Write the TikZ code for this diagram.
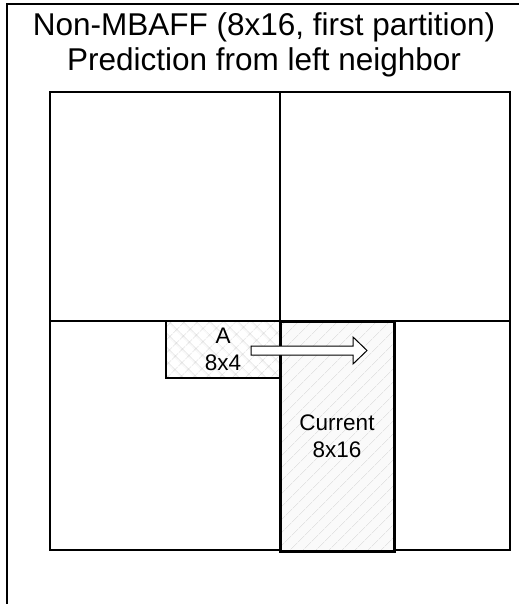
\documentclass[tikz,border=0pt]{standalone}
\usepackage{fontspec}
\setmainfont{Liberation Sans}
\usetikzlibrary{
  positioning,
  patterns.meta
}

\tikzset{
  mb/.style={draw,line width=1.6bp,minimum width=230bp,minimum height=229bp,
    inner sep=0pt,outer sep=0pt},
  part/.style={draw,inner sep=0pt,outer sep=0pt,align=center,
    font=\fontsize{22.5bp}{27bp}\selectfont}
}

\begin{document}
\begin{tikzpicture}[x=1bp,y=-1bp]
  \useasboundingbox (0,0) rectangle (519,604);
  % frame
  \draw[line width=1.2bp] (519,4) -- (7,4) -- (7,604);
  \node[align=center,inner sep=0pt,font=\fontsize{31.5bp}{35bp}\selectfont]
    (title) at (264,45) {Non-MBAFF (8x16, first partition)\\Prediction from left neighbor};
  % macroblocks
  \node[mb] (tl) at (165,206.5) {};
  \node[mb,right=0pt of tl] (tr) {};
  \node[mb,below=0pt of tl] (bl) {};
  \node[mb,right=0pt of bl] (br) {};
  % partitions
  \node[part,line width=1.2bp,fill=gray!8,
    pattern={Hatch[angle=45,distance=10bp,line width=0.5bp]},pattern color=gray!35,
    minimum width=114bp,minimum height=57bp,anchor=north east]
    (A) at (bl.north east) {A\\8x4};
  \node[part,fill=gray!4,line width=3bp,
    minimum width=114bp,minimum height=230bp,anchor=north west]
    (cur) at (bl.north east) {};
  \fill[pattern={Lines[angle=45,distance=10bp,line width=0.8bp]},pattern color=gray!22]
    (cur.north west) rectangle (cur.south east);
  \draw[line width=3bp] (cur.north west) rectangle (cur.south east);
  \node[part,draw=none,fill=none] (curlabel) at (cur.center) {Current\\8x16};
  % motion arrow
  \coordinate (mv) at (251,350.5);
  \draw[line width=1bp,fill=white] (mv) ++(0,-4.5) -- ++(102,0) -- ++(0,-9) -- ++(14,13.5)
    -- ++(-14,13.5) -- ++(0,-9) -- ++(-102,0) -- cycle;
\end{tikzpicture}
\end{document}
